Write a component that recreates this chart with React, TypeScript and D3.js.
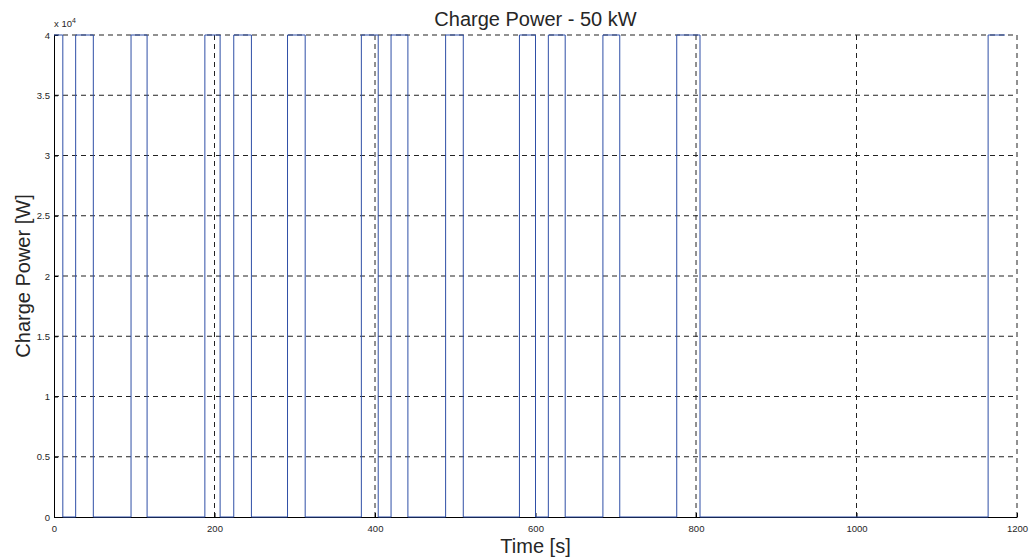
import { useEffect, useRef } from "react"
import * as d3 from "d3"

// step points of the charge power signal (time in s, power in W)
const time = [
  0, 11, 27, 49, 96, 116, 188, 207, 224, 246, 291, 313, 383, 404, 420, 441, 488, 510, 580, 600, 616, 637, 684, 705,
  776, 805, 1164, 1185,
]
const power = [
  40000, 0, 40000, 0, 40000, 0, 40000, 0, 40000, 0, 40000, 0, 40000, 0, 40000, 0, 40000, 0, 40000, 0, 40000, 0, 40000,
  0, 40000, 0, 40000, 40000,
]

const xTicks = [0, 200, 400, 600, 800, 1000, 1200]
const yTicks = [0, 5000, 10000, 15000, 20000, 25000, 30000, 35000, 40000]
const yTickLabels = ["0", "0.5", "1", "1.5", "2", "2.5", "3", "3.5", "4"]

export default function App() {
  const svgRef = useRef<SVGSVGElement>(null)

  useEffect(() => {
    if (!svgRef.current) return
    const width = 1030
    const height = 559
    const margin = { top: 35, right: 13, bottom: 42, left: 54 }
    const innerWidth = width - margin.left - margin.right
    const innerHeight = height - margin.top - margin.bottom
    const font = "'Liberation Sans', Arial, sans-serif"

    const svg = d3.select(svgRef.current).attr("width", width).attr("height", height)
    svg.selectAll("*").remove()
    svg.append("rect").attr("width", width).attr("height", height).attr("fill", "#fff")

    const g = svg.append("g").attr("transform", `translate(${margin.left},${margin.top})`)

    const xScale = d3.scaleLinear().domain([0, 1200]).range([0, innerWidth])
    const yScale = d3.scaleLinear().domain([0, 40000]).range([innerHeight, 0])

    // dashed grid
    g.selectAll(".vgrid")
      .data(xTicks.slice(1))
      .enter()
      .append("line")
      .attr("x1", (d) => xScale(d))
      .attr("x2", (d) => xScale(d))
      .attr("y1", 0)
      .attr("y2", innerHeight)
      .attr("stroke", "#222")
      .attr("stroke-dasharray", "5,4")
    g.selectAll(".hgrid")
      .data(yTicks.slice(1))
      .enter()
      .append("line")
      .attr("x1", 0)
      .attr("x2", innerWidth)
      .attr("y1", (d) => yScale(d))
      .attr("y2", (d) => yScale(d))
      .attr("stroke", "#222")
      .attr("stroke-dasharray", "5,4")

    // axes
    const xAxis = g
      .append("g")
      .attr("transform", `translate(0,${innerHeight})`)
      .call(
        d3
          .axisBottom(xScale)
          .tickValues(xTicks)
          .tickSize(-4)
          .tickPadding(8)
          .tickSizeOuter(0)
          .tickFormat(d3.format("d"))
      )
    const yAxis = g.append("g").call(
      d3
        .axisLeft(yScale)
        .tickValues(yTicks)
        .tickSize(-4)
        .tickPadding(4)
        .tickSizeOuter(0)
        .tickFormat((_, i) => yTickLabels[i])
    )
    for (const ax of [xAxis, yAxis]) {
      ax.attr("font-family", font).attr("font-size", "9.5px")
      ax.select(".domain").attr("stroke", "#000")
      ax.selectAll(".tick line").attr("stroke", "#000")
      ax.selectAll(".tick text").attr("fill", "#262626")
    }

    const line = d3
      .line<number>()
      .x((d) => xScale(time[d]))
      .y((d) => yScale(power[d]))
      .curve(d3.curveStepAfter)

    g.append("path")
      .datum(d3.range(time.length))
      .attr("fill", "none")
      .attr("stroke", "#2f4fa6")
      .attr("stroke-width", 1)
      .attr("d", line)

    // exponent label
    const exp = g
      .append("text")
      .attr("x", 0)
      .attr("y", -8)
      .attr("font-family", font)
      .attr("font-size", "9.5px")
      .attr("fill", "#262626")
    exp.append("tspan").text("x 10")
    exp.append("tspan").attr("font-size", "7px").attr("dy", -4).text("4")

    svg
      .append("text")
      .attr("x", margin.left + innerWidth / 2)
      .attr("y", 26)
      .attr("text-anchor", "middle")
      .attr("font-family", font)
      .attr("font-size", "20px")
      .attr("fill", "#262626")
      .text("Charge Power - 50 kW")

    svg
      .append("text")
      .attr("x", margin.left + innerWidth / 2)
      .attr("y", 553)
      .attr("text-anchor", "middle")
      .attr("font-family", font)
      .attr("font-size", "20px")
      .attr("fill", "#262626")
      .text("Time [s]")

    svg
      .append("text")
      .attr("transform", `translate(30,${margin.top + innerHeight / 2}) rotate(-90)`)
      .attr("text-anchor", "middle")
      .attr("font-family", font)
      .attr("font-size", "20px")
      .attr("fill", "#262626")
      .text("Charge Power [W]")
  }, [])

  return <svg ref={svgRef} style={{ position: "absolute", left: 0, top: 0, display: "block" }} />
}
